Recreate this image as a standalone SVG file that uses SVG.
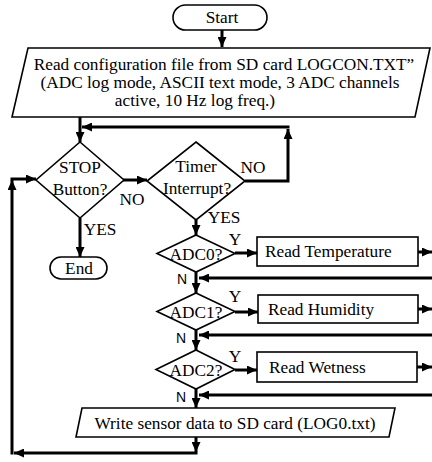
<svg xmlns="http://www.w3.org/2000/svg" width="432" height="462" viewBox="0 0 432 462">
  <defs>
    <marker id="ah" markerUnits="userSpaceOnUse" markerWidth="10" markerHeight="9" refX="10" refY="4.5" orient="auto">
      <path d="M0,0 L10,4.5 L0,9 z" fill="#000"/>
    </marker>
    <style>
      .shape { fill: #fff; stroke: #000; stroke-width: 1.6; }
      .conn { fill: none; stroke: #000; stroke-width: 3; marker-end: url(#ah); }
      .t { font-family: "Liberation Serif", "Times New Roman", "DejaVu Serif", serif; font-size: 17.3px; fill: #000; }
      .c { text-anchor: middle; }
      .s { font-family: "Liberation Sans", Arial, sans-serif; font-size: 14px; fill: #000; }
    </style>
  </defs>
  <rect width="432" height="462" fill="#fff"/>

  <g id="connectors">
    <path class="conn" d="M222,30 V47"/>
    <path class="conn" d="M80,117 V142"/>
    <path class="conn" d="M245,181 H288 V129"/>
    <path class="conn" d="M289.5,127 H82"/>
    <path class="conn" d="M123,180 H147"/>
    <path class="conn" d="M80,218 V257"/>
    <path class="conn" d="M196,220 V235"/>
    <path class="conn" d="M235,253 H257"/>
    <path class="conn" d="M418,252 H432"/>
    <path class="conn" d="M432,278 H199"/>
    <path class="conn" d="M196,272 V293"/>
    <path class="conn" d="M235,312 H258"/>
    <path class="conn" d="M418,309 H432"/>
    <path class="conn" d="M432,335 H199"/>
    <path class="conn" d="M196,330 V350"/>
    <path class="conn" d="M235,370 H257"/>
    <path class="conn" d="M417,367 H432"/>
    <path class="conn" d="M432,395 H199"/>
    <path class="conn" d="M196,389 V408"/>
    <path class="conn" d="M196,437 V452"/>
    <path class="conn" d="M197.5,453 H14"/>
    <path class="conn" d="M12,454.5 V180"/>
    <path class="conn" d="M10.5,179 H36"/>
  </g>

  <g id="start">
    <rect class="shape" x="173" y="5" width="94" height="25" rx="12.5"/>
    <text class="t c" x="222" y="23">Start</text>
  </g>

  <g id="read-config">
    <polygon class="shape" points="28,48 430,48 415,117 12,117"/>
    <text class="t c" x="224" y="70">Read configuration file from SD card LOGCON.TXT”</text>
    <text class="t c" x="220" y="88">(ADC log mode, ASCII text mode, 3 ADC channels</text>
    <text class="t c" x="195" y="106">active, 10 Hz log freq.)</text>
  </g>

  <g id="stop-button">
    <polygon class="shape" points="80,142 124,180 80,218 36,180"/>
    <text class="t c" x="80" y="173">STOP</text>
    <text class="t c" x="80" y="195">Button?</text>
    <text class="t c" x="132" y="205">NO</text>
    <text class="t c" x="100" y="235">YES</text>
  </g>

  <g id="end">
    <rect class="shape" x="50" y="257" width="57" height="22" rx="11"/>
    <text class="t c" x="79" y="274">End</text>
  </g>

  <g id="timer-interrupt">
    <polygon class="shape" points="196,142 245,181 196,220 147,181"/>
    <text class="t c" x="196" y="172">Timer</text>
    <text class="t c" x="197" y="194">Interrupt?</text>
    <text class="t c" x="253" y="173">NO</text>
    <text class="t c" x="224" y="223">YES</text>
  </g>

  <g id="adc0">
    <polygon class="shape" points="196,235 235,253.5 196,272 157,253.5"/>
    <text class="t c" x="196" y="259.5">ADC0?</text>
    <text class="t c" x="235" y="245">Y</text>
    <text class="s c" x="182" y="284">N</text>
  </g>

  <g id="read-temperature">
    <rect class="shape" x="257" y="237" width="161" height="29"/>
    <text class="t" x="265" y="257">Read Temperature</text>
  </g>

  <g id="adc1">
    <polygon class="shape" points="196,293 235,311.5 196,330 157,311.5"/>
    <text class="t c" x="196" y="317.5">ADC1?</text>
    <text class="t c" x="235" y="302">Y</text>
    <text class="s c" x="181" y="343">N</text>
  </g>

  <g id="read-humidity">
    <rect class="shape" x="258" y="295" width="160" height="28"/>
    <text class="t" x="268" y="315">Read Humidity</text>
  </g>

  <g id="adc2">
    <polygon class="shape" points="196,350 235,369.5 196,389 156,369.5"/>
    <text class="t c" x="196" y="375.5">ADC2?</text>
    <text class="t c" x="235" y="362">Y</text>
    <text class="s c" x="181" y="402">N</text>
  </g>

  <g id="read-wetness">
    <rect class="shape" x="257" y="352" width="160" height="30"/>
    <text class="t" x="269" y="373">Read Wetness</text>
  </g>

  <g id="write-sd">
    <polygon class="shape" points="82,408 395,408 389,437 76,437"/>
    <text class="t c" x="235" y="428.5">Write sensor data to SD card (LOG0.txt)</text>
  </g>
</svg>
